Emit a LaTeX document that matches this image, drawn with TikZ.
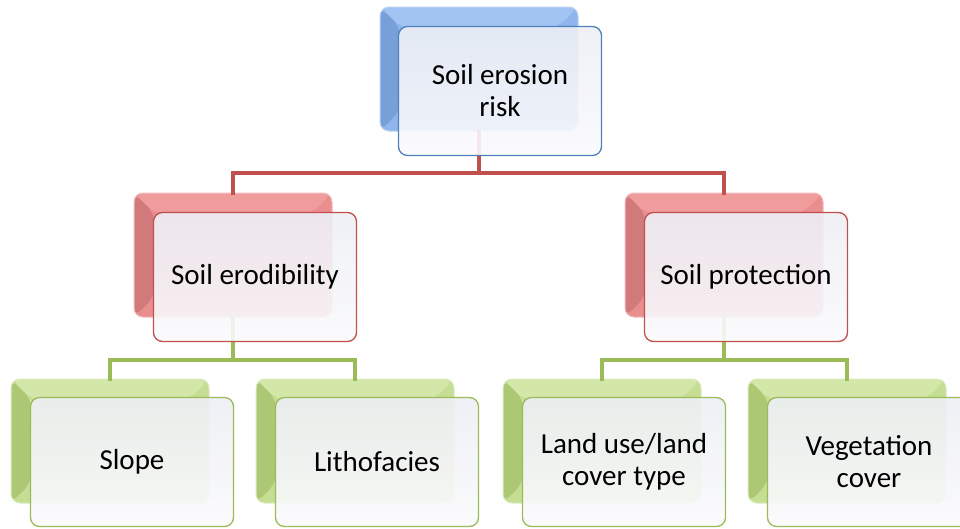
\documentclass[tikz,border=0pt]{standalone}
\usepackage{fontspec}
\setmainfont{Carlito}
\definecolor{blueBody}{HTML}{8FB5EC}
\definecolor{blueDark}{HTML}{779FD8}
\definecolor{blueLight}{HTML}{A2C4F3}
\definecolor{blueLine}{HTML}{4F81BD}
\definecolor{redBody}{HTML}{EA8D8F}
\definecolor{redDark}{HTML}{D07A7C}
\definecolor{redLight}{HTML}{F09C9D}
\definecolor{redLine}{HTML}{C0504D}
\definecolor{greenBody}{HTML}{C5DE94}
\definecolor{greenDark}{HTML}{ACC874}
\definecolor{greenLight}{HTML}{D3E8A8}
\definecolor{greenLine}{HTML}{9BBB59}
\definecolor{frontTop}{HTML}{EDEFF5}
\definecolor{frontBot}{HTML}{FBFBFD}
\begin{document}
\begin{tikzpicture}[x=1pt,y=-1pt,
  backbox/.style n args={3}{rounded corners=9pt, minimum width=198pt, minimum height=124pt,
    inner sep=0pt, fill=#1, draw=#1!60!white, line width=1pt,
    path picture={
      \fill[#3] (path picture bounding box.north west) -- (path picture bounding box.north east)
        -- ([xshift=-20pt,yshift=-20pt]path picture bounding box.north east)
        -- ([xshift=20pt,yshift=-20pt]path picture bounding box.north west) -- cycle;
      \fill[#2] (path picture bounding box.north west) -- ([xshift=20pt,yshift=-20pt]path picture bounding box.north west)
        -- ([xshift=20pt,yshift=20pt]path picture bounding box.south west)
        -- (path picture bounding box.south west) -- cycle;
    }},
  bluebox/.style={backbox={blueBody}{blueDark}{blueLight}},
  redbox/.style={backbox={redBody}{redDark}{redLight}},
  greenbox/.style={backbox={greenBody}{greenDark}{greenLight}},
  frontbox/.style={rounded corners=9pt, minimum width=203pt, minimum height=129pt,
    inner sep=0pt, draw=#1, line width=1.3pt, top color=frontTop, bottom color=frontBot,
    fill opacity=0.9, text opacity=1, align=center, text=black,
    font=\fontsize{29}{32}\selectfont},
  conn/.style={line width=4pt, draw=#1, line cap=rect}
]
\useasboundingbox (0,0) rectangle (960,528);
\fill[white] (0,0) rectangle (960,528);

% back boxes
\node[bluebox]  (topb) at (479,69) {};
\node[redbox]   (elb)  at (233,255) {};
\node[redbox]   (erb)  at (724,255) {};
\node[greenbox] (s1b)  at (110,441) {};
\node[greenbox] (s2b)  at (355,441) {};
\node[greenbox] (s3b)  at (602,441) {};
\node[greenbox] (s4b)  at (847,441) {};

% bus levels
\coordinate (busA) at (0,173);
\coordinate (busB) at (0,360);

% connectors
\draw[conn=redLine] (topb.south) -- (topb.south |- busA) -| (elb.north);
\draw[conn=redLine] (topb.south |- busA) -| (erb.north);
\draw[conn=greenLine] (elb.south) -- (elb.south |- busB) -| (s1b.north);
\draw[conn=greenLine] (elb.south |- busB) -| (s2b.north);
\draw[conn=greenLine] (erb.south) -- (erb.south |- busB) -| (s3b.north);
\draw[conn=greenLine] (erb.south |- busB) -| (s4b.north);

% front boxes
\node[frontbox=blueLine]  (top) at (500,91)  {Soil erosion\\risk};
\node[frontbox=redLine]   (el)  at (255,277) {Soil erodibility};
\node[frontbox=redLine]   (er)  at (746,277) {Soil protection};
\node[frontbox=greenLine] (s1)  at (132,462) {Slope};
\node[frontbox=greenLine] (s2)  at (377,462) {Lithofacies};
\node[frontbox=greenLine] (s3)  at (624,462) {Land use/land\\cover type};
\node[frontbox=greenLine] (s4)  at (869,462) {Vegetation\\cover};
\end{tikzpicture}
\end{document}
